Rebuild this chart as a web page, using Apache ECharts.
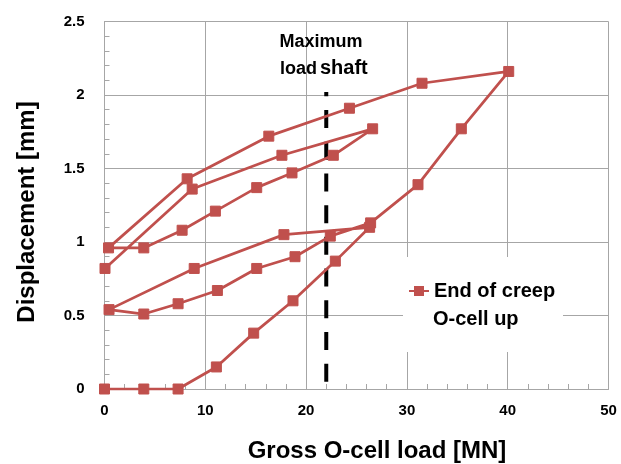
<!DOCTYPE html>
<html>
<head>
<meta charset="utf-8">
<script src="https://cdn.jsdelivr.net/npm/echarts@6/dist/echarts.min.js"></script>
<style>
html,body{margin:0;padding:0;background:#fff;}
#chart{width:621px;height:464px;}
</style>
</head>
<body>
<div id="chart"></div>
<script>
// Gross O-cell load [MN] and displacement [mm], in test order
const loadMN = [0, 3.9, 7.3, 11.1, 14.8, 18.7, 22.9, 26.3,
  17.8, 8.9, 0.45,
  3.9, 7.3, 11.2, 15.1, 18.9, 22.4, 26.4,
  31.1, 35.4, 40.1,
  31.5, 24.3, 16.3, 8.2, 0.4,
  3.9, 7.7, 11.0, 15.1, 18.6, 22.7, 26.6,
  17.6, 8.7, 0.05];
const displacementMm = [0, 0, 0, 0.15, 0.38, 0.60, 0.87, 1.10,
  1.05, 0.82, 0.54,
  0.51, 0.58, 0.67, 0.82, 0.90, 1.04, 1.13,
  1.39, 1.77, 2.16,
  2.08, 1.91, 1.72, 1.43, 0.96,
  0.96, 1.08, 1.21, 1.37, 1.47, 1.59, 1.77,
  1.59, 1.36, 0.82];
// Maximum shaft load marker
const maxLoadX = [22, 22];
const maxLoadY = [0.05, 2.02];
// Axis ticks
const xTicks = [0, 10, 20, 30, 40, 50];
const yTicks = [0, 0.5, 1, 1.5, 2, 2.5];

const seriesName = 'End of creep';
const FONT = 'Liberation Sans, Arial, sans-serif';
const GRID_COLOR = '#A6A6A6';

const mainData = loadMN.map((x, i) => [x, displacementMm[i]]);
const maxData = maxLoadX.map((x, i) => [x, maxLoadY[i]]);

const chart = echarts.init(document.getElementById('chart'), null, {renderer: 'canvas'});
chart.setOption({
  animation: false,
  backgroundColor: '#fff',
  grid: {left: 104.5, right: 12.5, top: 21.5, bottom: 75, containLabel: false},
  xAxis: {
    type: 'value',
    min: xTicks[0], max: xTicks[xTicks.length - 1],
    interval: xTicks[1] - xTicks[0],
    axisLine: {show: true, lineStyle: {color: GRID_COLOR, width: 1}},
    axisTick: {show: true, inside: true, length: 5, lineStyle: {color: GRID_COLOR}},
    minorTick: {show: true, splitNumber: 5, length: 5, lineStyle: {color: GRID_COLOR}},
    splitLine: {show: true, lineStyle: {color: GRID_COLOR, width: 1}},
    axisLabel: {margin: 14, fontSize: 15, fontWeight: 'bold', fontFamily: FONT, color: '#000'}
  },
  yAxis: {
    type: 'value',
    min: yTicks[0], max: yTicks[yTicks.length - 1],
    interval: yTicks[1] - yTicks[0],
    axisLine: {show: true, lineStyle: {color: GRID_COLOR, width: 1}},
    axisTick: {show: true, inside: true, length: 5, lineStyle: {color: GRID_COLOR}},
    minorTick: {show: true, splitNumber: 5, length: 5, lineStyle: {color: GRID_COLOR}},
    splitLine: {show: true, lineStyle: {color: GRID_COLOR, width: 1}},
    axisLabel: {margin: 20, fontSize: 15, fontWeight: 'bold', fontFamily: FONT, color: '#000'}
  },
  legend: {
    data: [seriesName],
    left: 408, top: 281,
    padding: 0,
    itemWidth: 20, itemHeight: 10,
    z: 20,
    textStyle: {fontSize: 20, fontWeight: 'bold', fontFamily: FONT, color: '#000'}
  },
  graphic: [
    {type: 'rect', left: 403, top: 257, z: 10, shape: {width: 160, height: 95}, style: {fill: '#fff'}},
    {type: 'text', left: 433, top: 309, z: 20,
      style: {text: 'O-cell up', font: 'bold 20px ' + FONT, fill: '#000'}},
    {type: 'text', x: 321, y: 42, z: 20,
      style: {text: 'Maximum', font: 'bold 18px ' + FONT, fill: '#000', align: 'center', verticalAlign: 'middle'}},
    {type: 'text', x: 280, y: 69, z: 20,
      style: {text: 'load', font: 'bold 18px ' + FONT, fill: '#000', align: 'left', verticalAlign: 'middle'}},
    {type: 'text', x: 320, y: 68, z: 20,
      style: {text: 'shaft', font: 'bold 20px ' + FONT, fill: '#000', align: 'left', verticalAlign: 'middle'}},
    {type: 'text', x: 377, y: 451, z: 20,
      style: {text: 'Gross O-cell load [MN]', font: 'bold 24px ' + FONT, fill: '#000', align: 'center', verticalAlign: 'middle'}},
    {type: 'text', x: 27, y: 212, rotation: Math.PI / 2, z: 20,
      style: {text: 'Displacement [mm]', font: 'bold 24px ' + FONT, fill: '#000', align: 'center', verticalAlign: 'middle'}}
  ],
  series: [
    {
      name: 'Maximum load shaft',
      type: 'line',
      data: maxData,
      showSymbol: false,
      symbol: 'none',
      silent: true,
      z: 3,
      lineStyle: {color: '#000', width: 4, type: [18, 13.7]}
    },
    {
      name: seriesName,
      type: 'line',
      data: mainData,
      symbol: 'rect',
      symbolSize: 10,
      z: 4,
      itemStyle: {color: '#C0504D', borderColor: '#C0504D', borderWidth: 1},
      lineStyle: {color: '#C0504D', width: 2.75}
    }
  ]
});
</script>
</body>
</html>
